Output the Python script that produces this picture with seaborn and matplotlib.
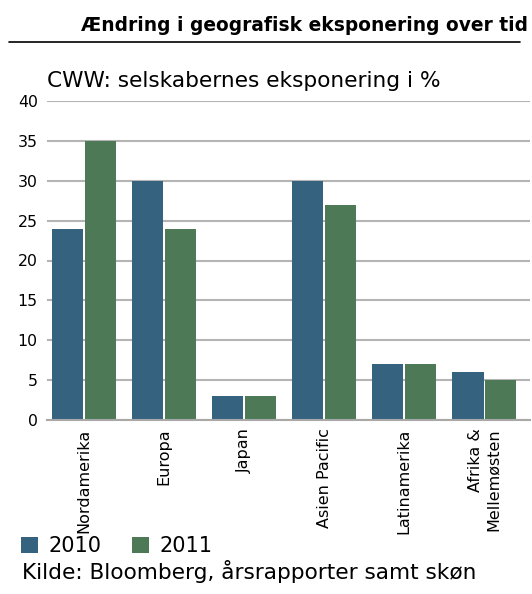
import matplotlib
matplotlib.use("Agg")
import matplotlib.pyplot as plt
from matplotlib.patches import Patch
from matplotlib.lines import Line2D
import seaborn as sns
import pandas as pd

categories = ["Nordamerika", "Europa", "Japan", "Asien Pacific", "Latinamerika", "Afrika &\nMellemøsten"]
values_2010 = [24, 30, 3, 30, 7, 6]
values_2011 = [35, 24, 3, 27, 7, 5]
series = ["2010", "2011"]
colors = ["#35637f", "#4d7956"]
yticks = [0, 5, 10, 15, 20, 25, 30, 35, 40]

df = pd.DataFrame({
    "Region": categories * 2,
    "Value": values_2010 + values_2011,
    "Year": [series[0]] * len(categories) + [series[1]] * len(categories),
})

sns.set_theme(style="white")
plt.rcParams["font.family"] = ["DejaVu Sans"]
plt.rcParams["text.color"] = "black"
plt.rcParams["xtick.color"] = "black"
plt.rcParams["ytick.color"] = "black"

W, H = 532, 594
fig = plt.figure(figsize=(W / 100, H / 100), dpi=100)
ax = fig.add_axes([46.7 / W, 1 - 420 / H, (530 - 46.7) / W, (420 - 101) / H])

sns.barplot(data=df, x="Region", y="Value", hue="Year", palette=colors,
            width=0.817, gap=0.05, ax=ax, legend=False, saturation=1, linewidth=0)

ax.set_ylim(0, 40)
ax.set_yticks(yticks)
ax.set_yticklabels([str(v) for v in yticks], fontsize=11.3)
ax.yaxis.grid(True, color="#b4b4b4", linewidth=1.5)
ax.set_axisbelow(True)
for s in ["top", "right", "left"]:
    ax.spines[s].set_visible(False)
ax.spines["bottom"].set_color("#a8a8a8")
ax.spines["bottom"].set_linewidth(1.5)
ax.tick_params(axis="y", length=0, pad=6.5)
ax.tick_params(axis="x", length=0, pad=6)
ax.set_xlabel("")
ax.set_ylabel("")
for lbl in ax.get_xticklabels():
    lbl.set_rotation(90)
    lbl.set_fontsize(11.5)
    lbl.set_va("top")
    lbl.set_ha("center")
    lbl.set_multialignment("right")
ax.set_xlim(-0.466, 5.57)

fig.text(528 / W, 1 - 31 / H, "Ændring i geografisk eksponering over tid",
         ha="right", va="baseline", fontsize=13.4, fontweight="bold")
fig.add_artist(Line2D([9 / W, 520 / W], [1 - 42 / H, 1 - 42 / H],
                      color="black", linewidth=1.2, transform=fig.transFigure))
fig.text(47 / W, 1 - 87 / H, "CWW: selskabernes eksponering i %",
         ha="left", va="baseline", fontsize=15.6)

handles = [Patch(facecolor=c, edgecolor="none") for c in colors]
fig.legend(handles, series, loc="center left", bbox_to_anchor=(21 / W, 1 - 546 / H),
           ncol=2, frameon=False, fontsize=15, handlelength=0.8, handleheight=0.8,
           handletextpad=0.5, columnspacing=1.5, borderaxespad=0, borderpad=0)
fig.text(22 / W, 1 - 579 / H, "Kilde: Bloomberg, årsrapporter samt skøn",
         ha="left", va="baseline", fontsize=15.6)

fig.savefig("out.png", dpi=100)
